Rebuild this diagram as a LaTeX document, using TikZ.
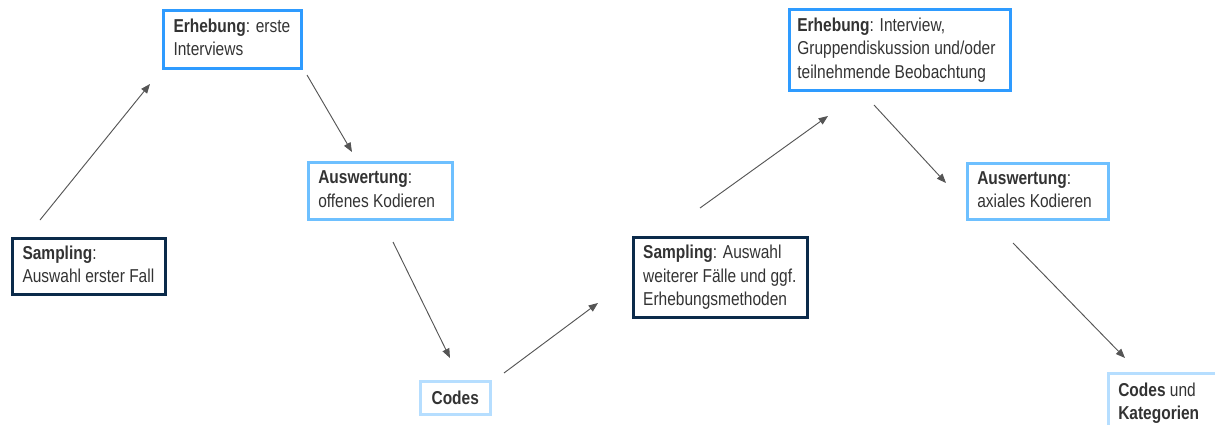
\documentclass[tikz,border=0pt]{standalone}
\usepackage{fontspec}
\setmainfont{Liberation Sans}[FakeStretch=0.83]
\usetikzlibrary{arrows.meta}
\definecolor{navy}{HTML}{0B2A4A}
\definecolor{blueA}{HTML}{2E9BFF}
\definecolor{blueB}{HTML}{6EC0FF}
\definecolor{blueC}{HTML}{B6DEFF}
\definecolor{txt}{HTML}{333333}
\definecolor{arr}{HTML}{555555}
% left-aligned block of lines inside a box of given width
\newcommand\boxlines[2]{\makebox[#1][l]{\begin{tabular}{@{}l@{}}#2\end{tabular}}}
\tikzset{
  box/.style={draw, rectangle, anchor=north west, inner xsep=0pt, inner ysep=0pt,
    text=txt, font=\fontsize{14pt}{17.5pt}\selectfont},
  sampbox/.style={box, draw=navy, line width=2.3pt},
  erhbox/.style={box, draw=blueA, line width=2.3pt},
  ausbox/.style={box, draw=blueB, line width=1.9pt},
  codebox/.style={box, draw=blueC, line width=1.9pt},
  flow/.style={draw=arr, line width=0.7pt, -{Triangle[length=7pt,width=5.5pt]}}
}
\begin{document}
\begin{tikzpicture}[x=0.75pt, y=-0.75pt]
\useasboundingbox (0,0) rectangle (1215,425);

% first cycle
\node[sampbox, minimum width=114.75pt, minimum height=42pt] (s1) at (11,237)
  {\boxlines{99.75pt}{\textbf{Sampling}:\\Auswahl erster Fall}};
\node[erhbox, minimum width=103.5pt, minimum height=43.5pt] (e1) at (162,9)
  {\boxlines{88.5pt}{\textbf{Erhebung}: erste\\Interviews}};
\node[ausbox, minimum width=108pt, minimum height=42.75pt] (a1) at (307,161)
  {\boxlines{93pt}{\textbf{Auswertung}:\\offenes Kodieren}};
\node[codebox, minimum width=52.5pt, minimum height=25pt] (c1) at (419,380)
  {\textbf{Codes}};

% second cycle
\node[sampbox, minimum width=130.5pt, minimum height=60pt] (s2) at (632,236)
  {\boxlines{116pt}{\textbf{Sampling}: Auswahl\\weiterer Fälle und ggf.\\Erhebungsmethoden}};
\node[erhbox, minimum width=165.75pt, minimum height=60.75pt] (e2) at (788,8)
  {\boxlines{154pt}{\textbf{Erhebung}: Interview,\\Gruppendiskussion und/oder\\teilnehmende Beobachtung}};
\node[ausbox, minimum width=105.75pt, minimum height=42pt] (a2) at (966,162)
  {\boxlines{90.75pt}{\textbf{Auswertung}:\\axiales Kodieren}};
\node[codebox, minimum width=97.5pt, minimum height=45pt] (c2) at (1107,372)
  {\boxlines{82.5pt}{\textbf{Codes} und\\\textbf{Kategorien}}};

% free-floating connectors between the stages
\coordinate (p1) at (40,220);   \coordinate (q1) at (150,84);
\coordinate (p2) at (307,75);   \coordinate (q2) at (352,152);
\coordinate (p3) at (393,242);  \coordinate (q3) at (450,358);
\coordinate (p4) at (504,373);  \coordinate (q4) at (598,303);
\coordinate (p5) at (700,208);  \coordinate (q5) at (828,116);
\coordinate (p6) at (874,105);  \coordinate (q6) at (946,183);
\coordinate (p7) at (1013,243); \coordinate (q7) at (1125,358);

\draw[flow] (p1) -- (q1);
\draw[flow] (p2) -- (q2);
\draw[flow] (p3) -- (q3);
\draw[flow] (p4) -- (q4);
\draw[flow] (p5) -- (q5);
\draw[flow] (p6) -- (q6);
\draw[flow] (p7) -- (q7);
\end{tikzpicture}
\end{document}
